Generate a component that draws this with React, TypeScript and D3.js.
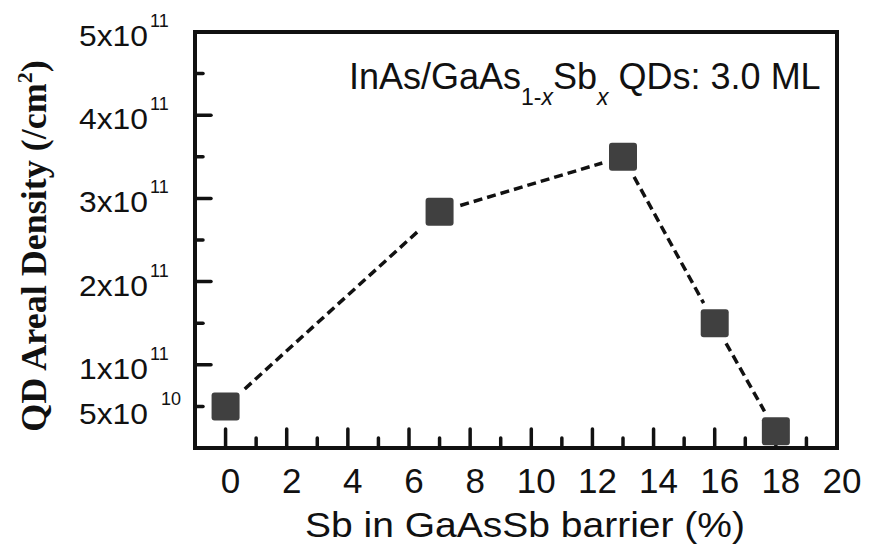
import React from "react";
import * as d3 from "d3";

const sbPercent = [0, 7, 13, 16, 18];
const density = [5e10, 2.84e11, 3.5e11, 1.5e11, 2e10];
const xMajorTicks = [0, 2, 4, 6, 8, 10, 12, 14, 16, 18, 20];
const xMinorTicks = [1, 3, 5, 7, 9, 11, 13, 15, 17, 19];
const yMajorTicks = [1e11, 2e11, 3e11, 4e11, 5e11];
const yMinorTicks = [5e10, 1.5e11, 2.5e11, 3.5e11, 4.5e11];
const yLabels = [
  { v: 5e10, base: "5x10", exp: "10" },
  { v: 1e11, base: "1x10", exp: "11" },
  { v: 2e11, base: "2x10", exp: "11" },
  { v: 3e11, base: "3x10", exp: "11" },
  { v: 4e11, base: "4x10", exp: "11" },
  { v: 5e11, base: "5x10", exp: "11" },
];
const xTitle = "Sb in GaAsSb barrier (%)";
const yTitle = "QD Areal Density (/cm";

export default function App() {
  const W = 869, H = 552;
  const left = 195, right = 837, top = 32, bottom = 448;
  const x = d3.scaleLinear().domain([-1, 20]).range([left, right]);
  const y = d3.scaleLinear().domain([0, 5e11]).range([bottom, top]);
  const ink = "#111";
  const sans = "'Liberation Sans', Arial, sans-serif";
  const half = 14;

  const pts = sbPercent.map((s, i) => [x(s), y(density[i])]);
  const segs = [];
  for (let i = 0; i < pts.length - 1; i++) {
    const [ax, ay] = pts[i];
    const [bx, by] = pts[i + 1];
    const dx = bx - ax, dy = by - ay;
    const len = Math.hypot(dx, dy);
    const ux = dx / len, uy = dy / len;
    const exit = half / Math.max(Math.abs(ux), Math.abs(uy));
    const g = exit + 7;
    segs.push([ax + ux * g, ay + uy * g, bx - ux * g, by - uy * g]);
  }

  return (
    <svg width={W} height={H} style={{ position: "absolute", left: 0, top: 0, background: "#fff" }}>
      <rect x={0} y={0} width={W} height={H} fill="#fff" />
      {/* ticks */}
      {xMajorTicks.filter((t) => t < 20).map((t) => (
        <line key={"xM" + t} x1={x(t)} x2={x(t)} y1={bottom} y2={bottom - 19} stroke={ink} strokeWidth={3.5} strokeLinecap="round" />
      ))}
      {xMinorTicks.map((t) => (
        <line key={"xm" + t} x1={x(t)} x2={x(t)} y1={bottom} y2={bottom - 10} stroke={ink} strokeWidth={3.5} strokeLinecap="round" />
      ))}
      {yMajorTicks.filter((t) => t < 5e11).map((t) => (
        <line key={"yM" + t} x1={left} x2={left + 16} y1={y(t)} y2={y(t)} stroke={ink} strokeWidth={3.5} strokeLinecap="round" />
      ))}
      {yMinorTicks.map((t) => (
        <line key={"ym" + t} x1={left} x2={left + 8} y1={y(t)} y2={y(t)} stroke={ink} strokeWidth={3.5} strokeLinecap="round" />
      ))}
      {/* frame */}
      <rect x={left} y={top} width={right - left} height={bottom - top} fill="none" stroke={ink} strokeWidth={4} />
      {/* dashed connecting line */}
      {segs.map((s, i) => (
        <line key={"s" + i} x1={s[0]} y1={s[1]} x2={s[2]} y2={s[3]} stroke={ink} strokeWidth={3.5} strokeDasharray="9 5" />
      ))}
      {/* markers */}
      {pts.map(([px, py], i) => (
        <rect key={"p" + i} x={px - half} y={py - half} width={half * 2} height={half * 2} rx={3} fill="#404040" />
      ))}
      {/* x tick labels */}
      {xMajorTicks.map((t) => (
        <text key={"xl" + t} x={x(t) + 5} y={493} textAnchor="middle" fontFamily={sans} fontSize={35} fill={ink}>
          {t}
        </text>
      ))}
      {/* y tick labels */}
      {yLabels.map((l) => {
        const by = y(l.v) + (l.v === 5e10 ? 18 : 14);
        return (
          <g key={"yl" + l.v}>
            <text x={79} y={by} fontFamily={sans} fontSize={29} fill={ink} textLength={69} lengthAdjust="spacingAndGlyphs">
              {l.base}
            </text>
            <text x={l.exp === "10" ? 161 : 150} y={by - 19} fontFamily={sans} fontSize={18} fill={ink}>
              {l.exp}
            </text>
          </g>
        );
      })}
      {/* x title */}
      <text x={525} y={537} textAnchor="middle" fontFamily={sans} fontSize={35} fill={ink} textLength={440} lengthAdjust="spacingAndGlyphs">
        {xTitle}
      </text>
      {/* y title */}
      <text
        transform={`translate(46, 246) rotate(-90)`}
        textAnchor="middle"
        fontFamily="'Liberation Serif', 'Times New Roman', serif"
        fontWeight="bold"
        fontSize={36}
        fill={ink}
      >
        {yTitle}
        <tspan fontSize={22} dy={-14}>2</tspan>
        <tspan dy={14}>)</tspan>
      </text>
      {/* annotation */}
      <text x={349} y={89} fontFamily={sans} fontSize={36} fill={ink}>
        InAs/GaAs
        <tspan fontSize={23} dy={16} fontStyle="normal">1-</tspan>
        <tspan fontSize={23} fontStyle="italic">x</tspan>
        <tspan dy={-16}>Sb</tspan>
        <tspan fontSize={23} dy={16} fontStyle="italic">x</tspan>
        <tspan dy={-16}> QDs: 3.0 ML</tspan>
      </text>
    </svg>
  );
}
